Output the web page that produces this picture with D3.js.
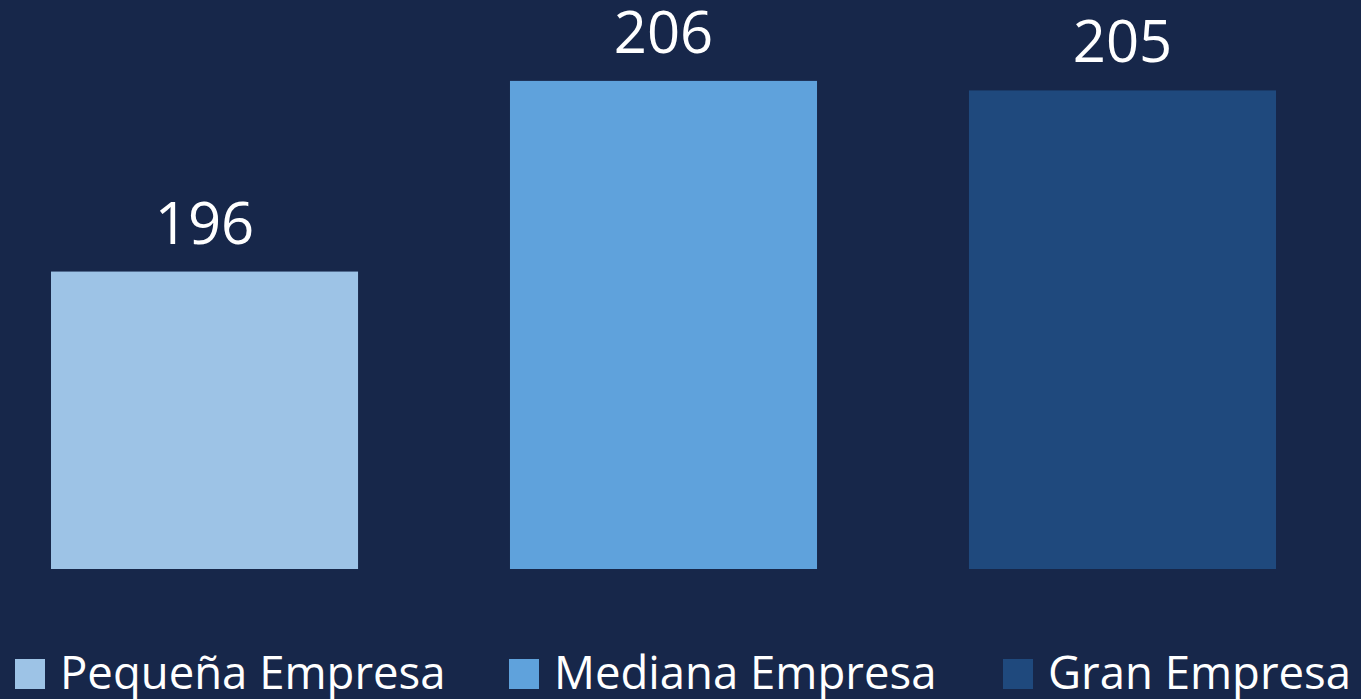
<!DOCTYPE html>
<html>
<head>
<meta charset="utf-8">
<script src="https://cdn.jsdelivr.net/npm/d3@7"></script>
<style>
  html, body { margin: 0; padding: 0; background: #17274a; overflow: hidden; }
  svg { display: block; }
</style>
</head>
<body>
<svg id="chart"></svg>
<script>
// Chart data
const categories = ["Pequeña Empresa", "Mediana Empresa", "Gran Empresa"];
const values = [195.6, 205.6, 205.1];
const labels = ["196", "206", "205"];
const colors = ["#9dc3e6", "#5fa2dc", "#1f497d"];

const width = 1361, height = 699;
const svg = d3.select("#chart")
  .attr("width", width)
  .attr("height", height);

svg.append("rect")
  .attr("width", width)
  .attr("height", height)
  .attr("fill", "#17274a");

// Scales: axis is hidden, baseline sits at 180
const x = d3.scaleBand()
  .domain(categories)
  .range([51, 1276])
  .paddingInner(0.331)
  .paddingOuter(0);

const y = d3.scaleLinear()
  .domain([180, 210])
  .range([569, -3]);

// Bars
svg.selectAll("rect.bar")
  .data(categories)
  .join("rect")
  .attr("class", "bar")
  .attr("x", d => x(d))
  .attr("width", x.bandwidth())
  .attr("y", (d, i) => y(values[i]))
  .attr("height", (d, i) => y(180) - y(values[i]))
  .attr("fill", (d, i) => colors[i]);

// Value labels
svg.selectAll("text.value")
  .data(categories)
  .join("text")
  .attr("class", "value")
  .attr("x", d => x(d) + x.bandwidth() / 2)
  .attr("y", (d, i) => y(values[i]) - 28)
  .attr("text-anchor", "middle")
  .attr("fill", "#ffffff")
  .style("font-family", "'Open Sans', sans-serif")
  .style("font-size", "58px")
  .text((d, i) => labels[i]);

// Legend
const legend = svg.append("g")
  .attr("transform", "translate(15, 659)");

const item = legend.selectAll("g")
  .data(categories)
  .join("g")
  .attr("transform", (d, i) => `translate(${i * 494}, 0)`);

item.append("rect")
  .attr("width", 30)
  .attr("height", 30)
  .attr("fill", (d, i) => colors[i]);

item.append("text")
  .attr("x", 45)
  .attr("y", 30)
  .attr("fill", "#ffffff")
  .style("font-family", "'Open Sans', sans-serif")
  .style("font-size", "45.5px")
  .text(d => d);
</script>
</body>
</html>
